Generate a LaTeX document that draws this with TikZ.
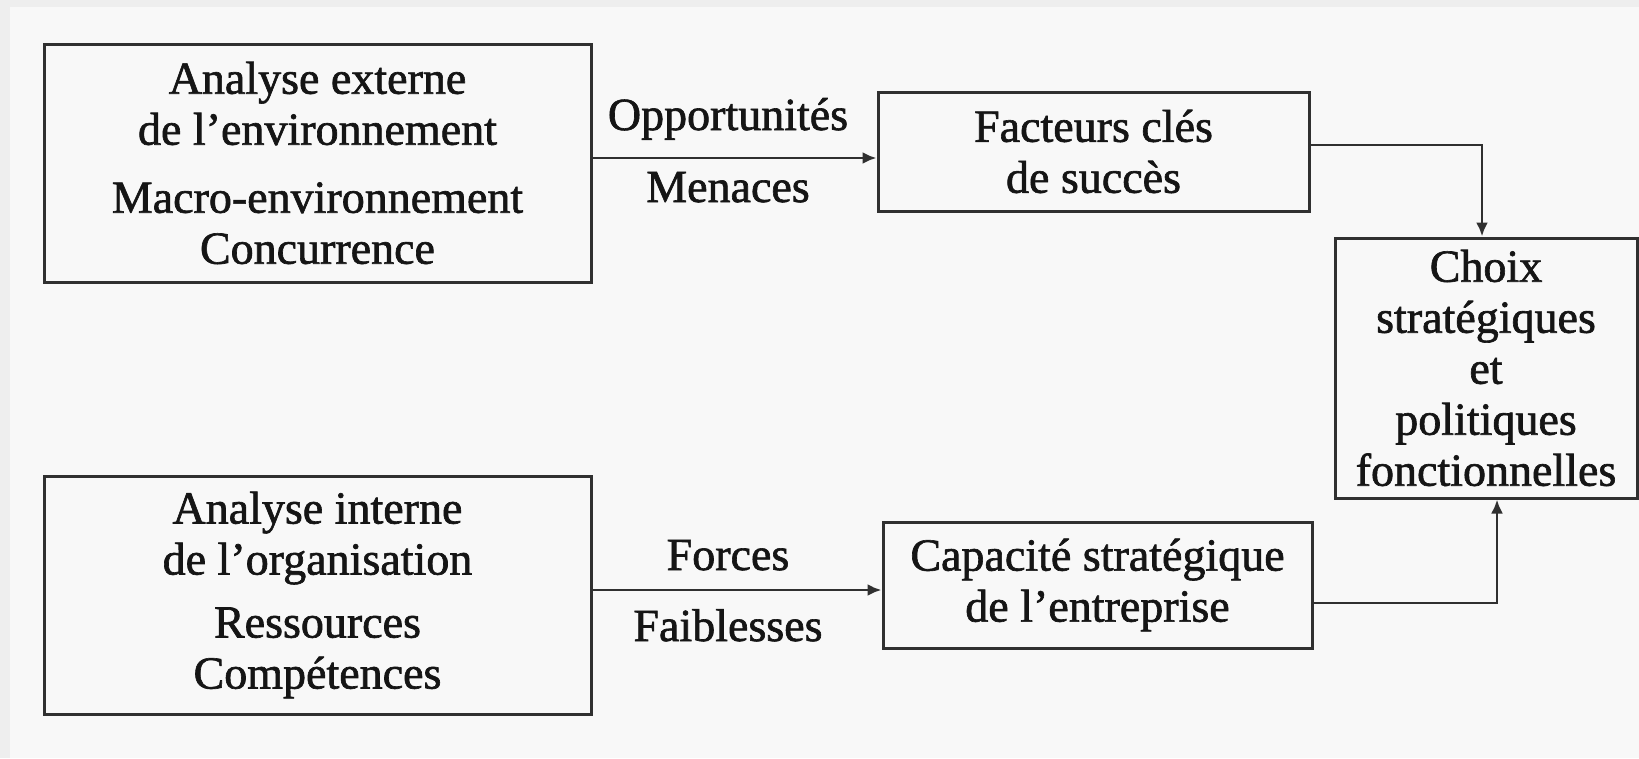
\documentclass[tikz,border=0pt]{standalone}
\usepackage{fontspec}
\setmainfont{Liberation Serif}[FakeBold=1.4]
\usetikzlibrary{arrows.meta,calc}
\definecolor{ink}{HTML}{151515}
\definecolor{edge}{HTML}{303030}
\definecolor{paper}{HTML}{F8F8F8}
\definecolor{margin}{HTML}{EEEEEE}
\tikzset{
  x=1pt,y=-1pt,
  box/.style={draw=edge, line width=3pt, fill=paper, inner sep=0pt,
    align=center, text=ink, font=\fontsize{46}{51}\selectfont},
  flow/.style={draw=edge, line width=2.8pt, -{Latex[length=14pt,width=12pt]}},
  lbl/.style={text=ink, font=\fontsize{46}{51}\selectfont, inner sep=0pt, anchor=base},
}
\begin{document}
\begin{tikzpicture}
  % page and panel
  \useasboundingbox (0,0) rectangle (1639,758);
  \fill[margin] (0,0) rectangle (1639,758);
  \fill[paper] (10,7) rectangle (1639,758);

  % analysis boxes
  \node[box, minimum width=547pt, minimum height=238pt] (ext) at (317.5,163)
    {Analyse externe\\de l’environnement\\[17pt]Macro-environnement\\Concurrence};
  \node[box, minimum width=547pt, minimum height=238pt] (int) at (317.5,595)
    {Analyse interne\\de l’organisation\\[12pt]Ressources\\Compétences};

  % intermediate boxes
  \node[box, minimum width=431pt, minimum height=119pt] (fcs) at (1093.5,151.5)
    {Facteurs clés\\de succès};
  \node[box, minimum width=429pt, minimum height=126pt] (cap) at (1097.5,585)
    {Capacité stratégique\\de l’entreprise};

  % final box
  \node[box, minimum width=302pt, minimum height=260pt] (choix) at (1486,368)
    {Choix\\stratégiques\\et\\politiques\\fonctionnelles};

  % connector levels
  \coordinate (yA) at (0,158);
  \coordinate (yB) at (0,145);
  \coordinate (yD) at (0,590);
  \coordinate (yE) at (0,603);
  \coordinate (xB) at (1482,0);
  \coordinate (xE) at (1497,0);

  % connectors
  \draw[flow] (ext.east |- yA) -- (fcs.west |- yA);
  \draw[flow] (int.east |- yD) -- (cap.west |- yD);
  \draw[flow] (fcs.east |- yB) -| (choix.north -| xB);
  \draw[flow] (cap.east |- yE) -| (choix.south -| xE);

  % connector labels
  \node[lbl] (opp) at (728,130) {Opportunités};
  \node[lbl] (men) at (728,202) {Menaces};
  \node[lbl] (for) at (728,570) {Forces};
  \node[lbl] (fai) at (728,641) {Faiblesses};
\end{tikzpicture}
\end{document}
